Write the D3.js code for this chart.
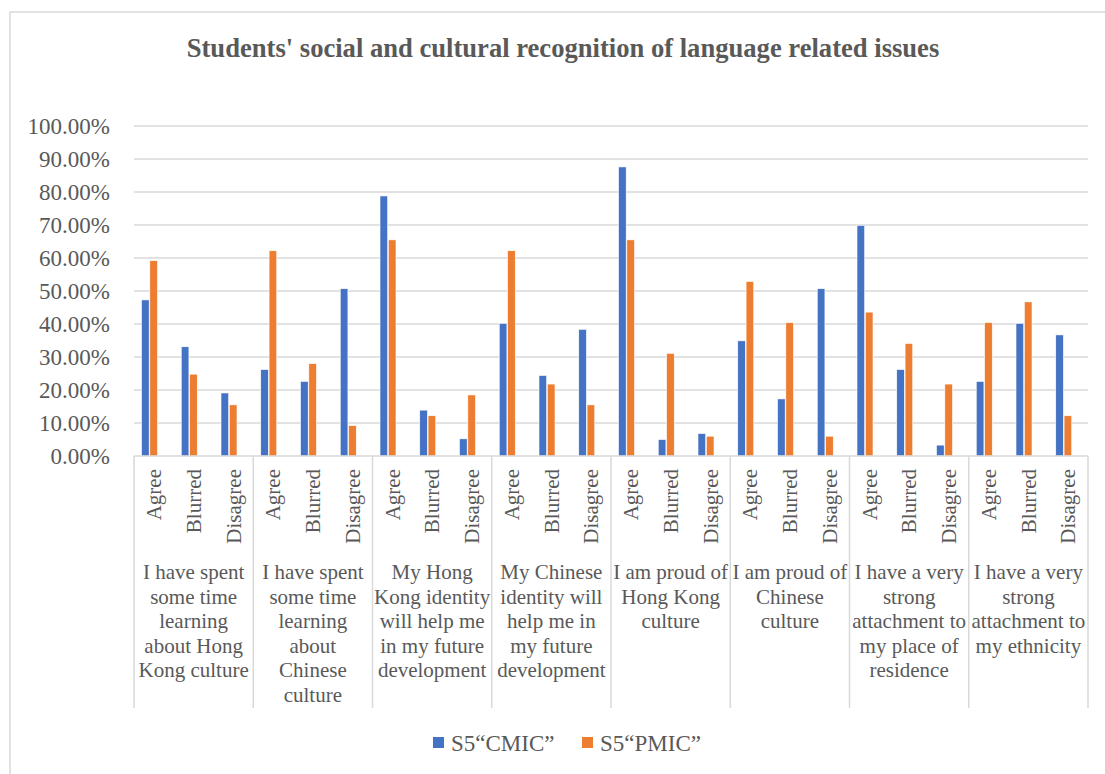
<!DOCTYPE html>
<html>
<head>
<meta charset="utf-8">
<script src="https://cdn.jsdelivr.net/npm/d3@7"></script>
<style>
  body { margin: 0; background: #fff; }
  text { font-family: "Liberation Serif", "Times New Roman", serif; fill: #595959; }
</style>
</head>
<body>
<div id="canvas"></div>
<script>
"use strict"

/* Data */
let groups = [
    ["I have spent", "some time", "learning", "about Hong", "Kong culture"],
    ["I have spent", "some time", "learning", "about", "Chinese", "culture"],
    ["My Hong", "Kong identity", "will help me", "in my future", "development"],
    ["My Chinese", "identity will", "help me in", "my future", "development"],
    ["I am proud of", "Hong Kong", "culture"],
    ["I am proud of", "Chinese", "culture"],
    ["I have a very", "strong", "attachment to", "my place of", "residence"],
    ["I have a very", "strong", "attachment to", "my ethnicity"]
];
let answers = ["Agree", "Blurred", "Disagree"];
let seriesNames = ["S5\u201CCMIC\u201D", "S5\u201CPMIC\u201D"];
let seriesColors = ["#4472C4", "#ED7D31"];

// percentages, one per group x answer
let cmic = [47.3, 33.1, 19.1, 26.2, 22.6, 50.7, 78.8, 13.9, 5.2, 40.2, 24.4, 38.4,
    87.6, 5.0, 6.8, 34.9, 17.3, 50.7, 69.9, 26.2, 3.3, 22.6, 40.2, 36.7];
let pmic = [59.2, 24.8, 15.5, 62.2, 28.0, 9.2, 65.5, 12.2, 18.5, 62.2, 21.8, 15.5,
    65.5, 31.1, 6.0, 52.9, 40.4, 6.0, 43.6, 34.1, 21.8, 40.4, 46.7, 12.2];
let yTicks = [0, 0.1, 0.2, 0.3, 0.4, 0.5, 0.6, 0.7, 0.8, 0.9, 1.0];

/* Drawing config */
let svgWidth = 1105;
let svgHeight = 774;
let plotLeft = 134, plotRight = 1088, plotTop = 126, plotBottom = 456;
let axisBottom = 708;
let gridColor = "#d9d9d9";

let svg = d3.select("#canvas").append("svg")
    .attr("width", svgWidth)
    .attr("height", svgHeight);

// chart frame (runs off the right and bottom edges in the original)
svg.append("rect")
    .attr("x", 10).attr("y", 12)
    .attr("width", svgWidth + 20).attr("height", svgHeight + 20)
    .attr("fill", "none")
    .attr("stroke", gridColor)
    .attr("stroke-width", 1.5);

// title
svg.append("text")
    .attr("x", 563).attr("y", 57)
    .attr("text-anchor", "middle")
    .attr("font-weight", "bold")
    .attr("font-size", 26.6)
    .text("Students' social and cultural recognition of language related issues");

/* Scales */
let keys = [];
groups.forEach((g, gi) => answers.forEach((a, ai) => keys.push(gi + "-" + ai)));

let x0 = d3.scaleBand().domain(keys).range([plotLeft, plotRight]);
let xg = d3.scaleBand().domain(d3.range(groups.length)).range([plotLeft, plotRight]);
let x1 = d3.scaleBand().domain(seriesNames).range([7.5, 23.5]).paddingInner(0.08);
let y = d3.scaleLinear().domain([0, 1]).range([plotBottom, plotTop]);

// gridlines
svg.append("g").selectAll("line")
    .data(yTicks.slice(1))
    .join("line")
    .attr("x1", plotLeft).attr("x2", plotRight)
    .attr("y1", d => y(d)).attr("y2", d => y(d))
    .attr("stroke", gridColor)
    .attr("stroke-width", 1.3);

// y axis labels
svg.append("g").selectAll("text")
    .data(yTicks)
    .join("text")
    .attr("x", 110)
    .attr("y", d => y(d))
    .attr("dy", "0.35em")
    .attr("text-anchor", "end")
    .attr("font-size", 23)
    .text(d => d3.format(".2%")(d));

/* Bars */
let rows = keys.map((k, i) => ({ key: k, values: [cmic[i], pmic[i]] }));

let barGroups = svg.append("g").selectAll("g")
    .data(rows)
    .join("g")
    .attr("transform", d => "translate(" + x0(d.key) + ",0)");

barGroups.selectAll("rect")
    .data(d => d.values.map((v, si) => ({ v: v, s: seriesNames[si], c: seriesColors[si] })))
    .join("rect")
    .attr("x", d => x1(d.s))
    .attr("width", x1.bandwidth())
    .attr("y", d => y(d.v / 100))
    .attr("height", d => plotBottom - y(d.v / 100))
    .attr("fill", d => d.c)
    .attr("stroke", "#fff")
    .attr("stroke-width", 0.6);

/* Category axis */
svg.append("line")
    .attr("x1", plotLeft).attr("x2", plotRight)
    .attr("y1", plotBottom).attr("y2", plotBottom)
    .attr("stroke", gridColor)
    .attr("stroke-width", 1.5);

svg.append("g").selectAll("line")
    .data(d3.range(groups.length + 1))
    .join("line")
    .attr("x1", d => d < groups.length ? xg(d) : plotRight)
    .attr("x2", d => d < groups.length ? xg(d) : plotRight)
    .attr("y1", plotBottom).attr("y2", axisBottom)
    .attr("stroke", gridColor)
    .attr("stroke-width", 1.5);

// answer labels, rotated
svg.append("g").selectAll("text")
    .data(keys)
    .join("text")
    .attr("transform", d => "translate(" + (x0(d) + x0.bandwidth() / 2) + ",469) rotate(-90)")
    .attr("text-anchor", "end")
    .attr("dy", "0.35em")
    .attr("font-size", 21)
    .text(d => answers[+d.split("-")[1]]);

// group labels
let groupText = svg.append("g").selectAll("text")
    .data(groups)
    .join("text")
    .attr("text-anchor", "middle")
    .attr("font-size", 21);

groupText.selectAll("tspan")
    .data((d, gi) => d.map((line, li) => ({ line: line, li: li, gi: gi })))
    .join("tspan")
    .attr("x", d => xg(d.gi) + xg.bandwidth() / 2)
    .attr("y", d => 579 + d.li * 24.5)
    .text(d => d.line);

/* Legend */
let legendX = [433, 582];
let legend = svg.append("g").selectAll("g")
    .data(seriesNames)
    .join("g")
    .attr("transform", (d, i) => "translate(" + legendX[i] + ",737)");

legend.append("rect")
    .attr("width", 11).attr("height", 11)
    .attr("fill", (d, i) => seriesColors[i]);

legend.append("text")
    .attr("x", 18).attr("y", 14)
    .attr("font-size", 23)
    .text(d => d);
</script>
</body>
</html>
